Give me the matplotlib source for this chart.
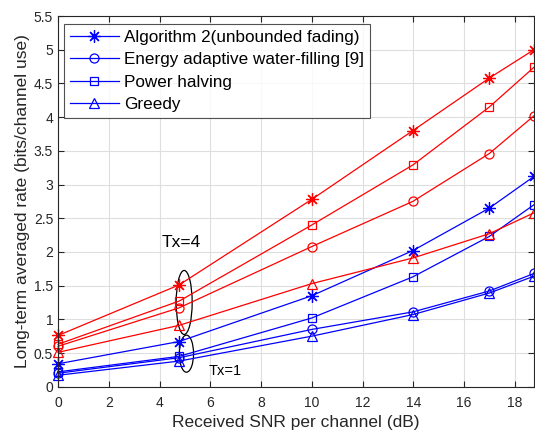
import numpy as np
import matplotlib.pyplot as plt
from matplotlib.patches import Ellipse

plt.rcParams['font.family'] = ['Liberation Sans', 'DejaVu Sans']

# received SNR per channel (dB)
snr = [0, 4.77, 10, 13.98, 16.99, 18.75]

# Tx=4 (red)
alg2_tx4 = [0.76, 1.51, 2.78, 3.80, 4.58, 5.00]
ewf_tx4 = [0.60, 1.17, 2.08, 2.75, 3.46, 4.02]
half_tx4 = [0.63, 1.27, 2.40, 3.29, 4.15, 4.74]
greedy_tx4 = [0.51, 0.91, 1.53, 1.91, 2.27, 2.58]

# Tx=1 (blue)
alg2_tx1 = [0.34, 0.67, 1.35, 2.02, 2.65, 3.12]
ewf_tx1 = [0.20, 0.43, 0.85, 1.11, 1.42, 1.68]
half_tx1 = [0.22, 0.45, 1.02, 1.63, 2.23, 2.70]
greedy_tx1 = [0.17, 0.38, 0.75, 1.07, 1.39, 1.64]

names = ['Algorithm 2(unbounded fading)', 'Energy adaptive water-filling [9]',
         'Power halving', 'Greedy']
markers = [(8, 2, 0), 'o', 's', '^']
msizes = [9, 6.5, 5.5, 7]

fig = plt.figure(figsize=(5.35, 4.30), dpi=100)
ax = fig.add_axes([0.1084, 0.1007, 0.8897, 0.862])

tx1 = [alg2_tx1, ewf_tx1, half_tx1, greedy_tx1]
tx4 = [alg2_tx4, ewf_tx4, half_tx4, greedy_tx4]
for i in range(4):
    ax.plot(snr, tx1[i], color='blue', lw=0.9, marker=markers[i], ms=msizes[i],
            mfc='none', mew=0.9, label=names[i], clip_on=False)
for i in range(4):
    ax.plot(snr, tx4[i], color='red', lw=0.9, marker=markers[i], ms=msizes[i],
            mfc='none', mew=0.9, clip_on=False)

ax.add_patch(Ellipse((4.97, 1.25), 0.63, 0.95, fill=False, ec='black', lw=0.9))
ax.add_patch(Ellipse((5.06, 0.49), 0.56, 0.55, fill=False, ec='black', lw=0.9))
ax.text(4.08, 2.08, 'Tx=4', fontsize=12.5)
ax.text(5.93, 0.17, 'Tx=1', fontsize=10.5)

ax.set_xlim(0, 18.75)
ax.set_ylim(0, 5.5)
ax.set_xticks(np.arange(0, 19, 2))
ax.set_yticks(np.arange(0, 5.6, 0.5))
ax.set_yticklabels(['0', '0.5', '1', '1.5', '2', '2.5', '3', '3.5', '4', '4.5', '5', '5.5'])
ax.grid(True, color='#dedede', lw=0.8)
ax.set_axisbelow(True)
ax.tick_params(direction='in', top=True, right=True, labelsize=10, colors='#262626', length=4)
ax.tick_params(axis='x', pad=7)
for s in ax.spines.values():
    s.set_color('#262626')
    s.set_linewidth(0.8)
ax.set_xlabel('Received SNR per channel (dB)', fontsize=12.5, color='#262626', labelpad=3)
ax.set_ylabel('Long-term averaged rate (bits/channel use)', fontsize=12.5, color='#262626', labelpad=3)

leg = ax.legend(loc='upper left', bbox_to_anchor=(0.012, 0.978), fontsize=12.3, frameon=True,
                fancybox=False, edgecolor='#262626', handlelength=2.9, borderaxespad=0.0,
                labelspacing=0.42, borderpad=0.35, handletextpad=0.3)
leg.get_frame().set_linewidth(0.8)

fig.savefig('out.png', dpi=100)
